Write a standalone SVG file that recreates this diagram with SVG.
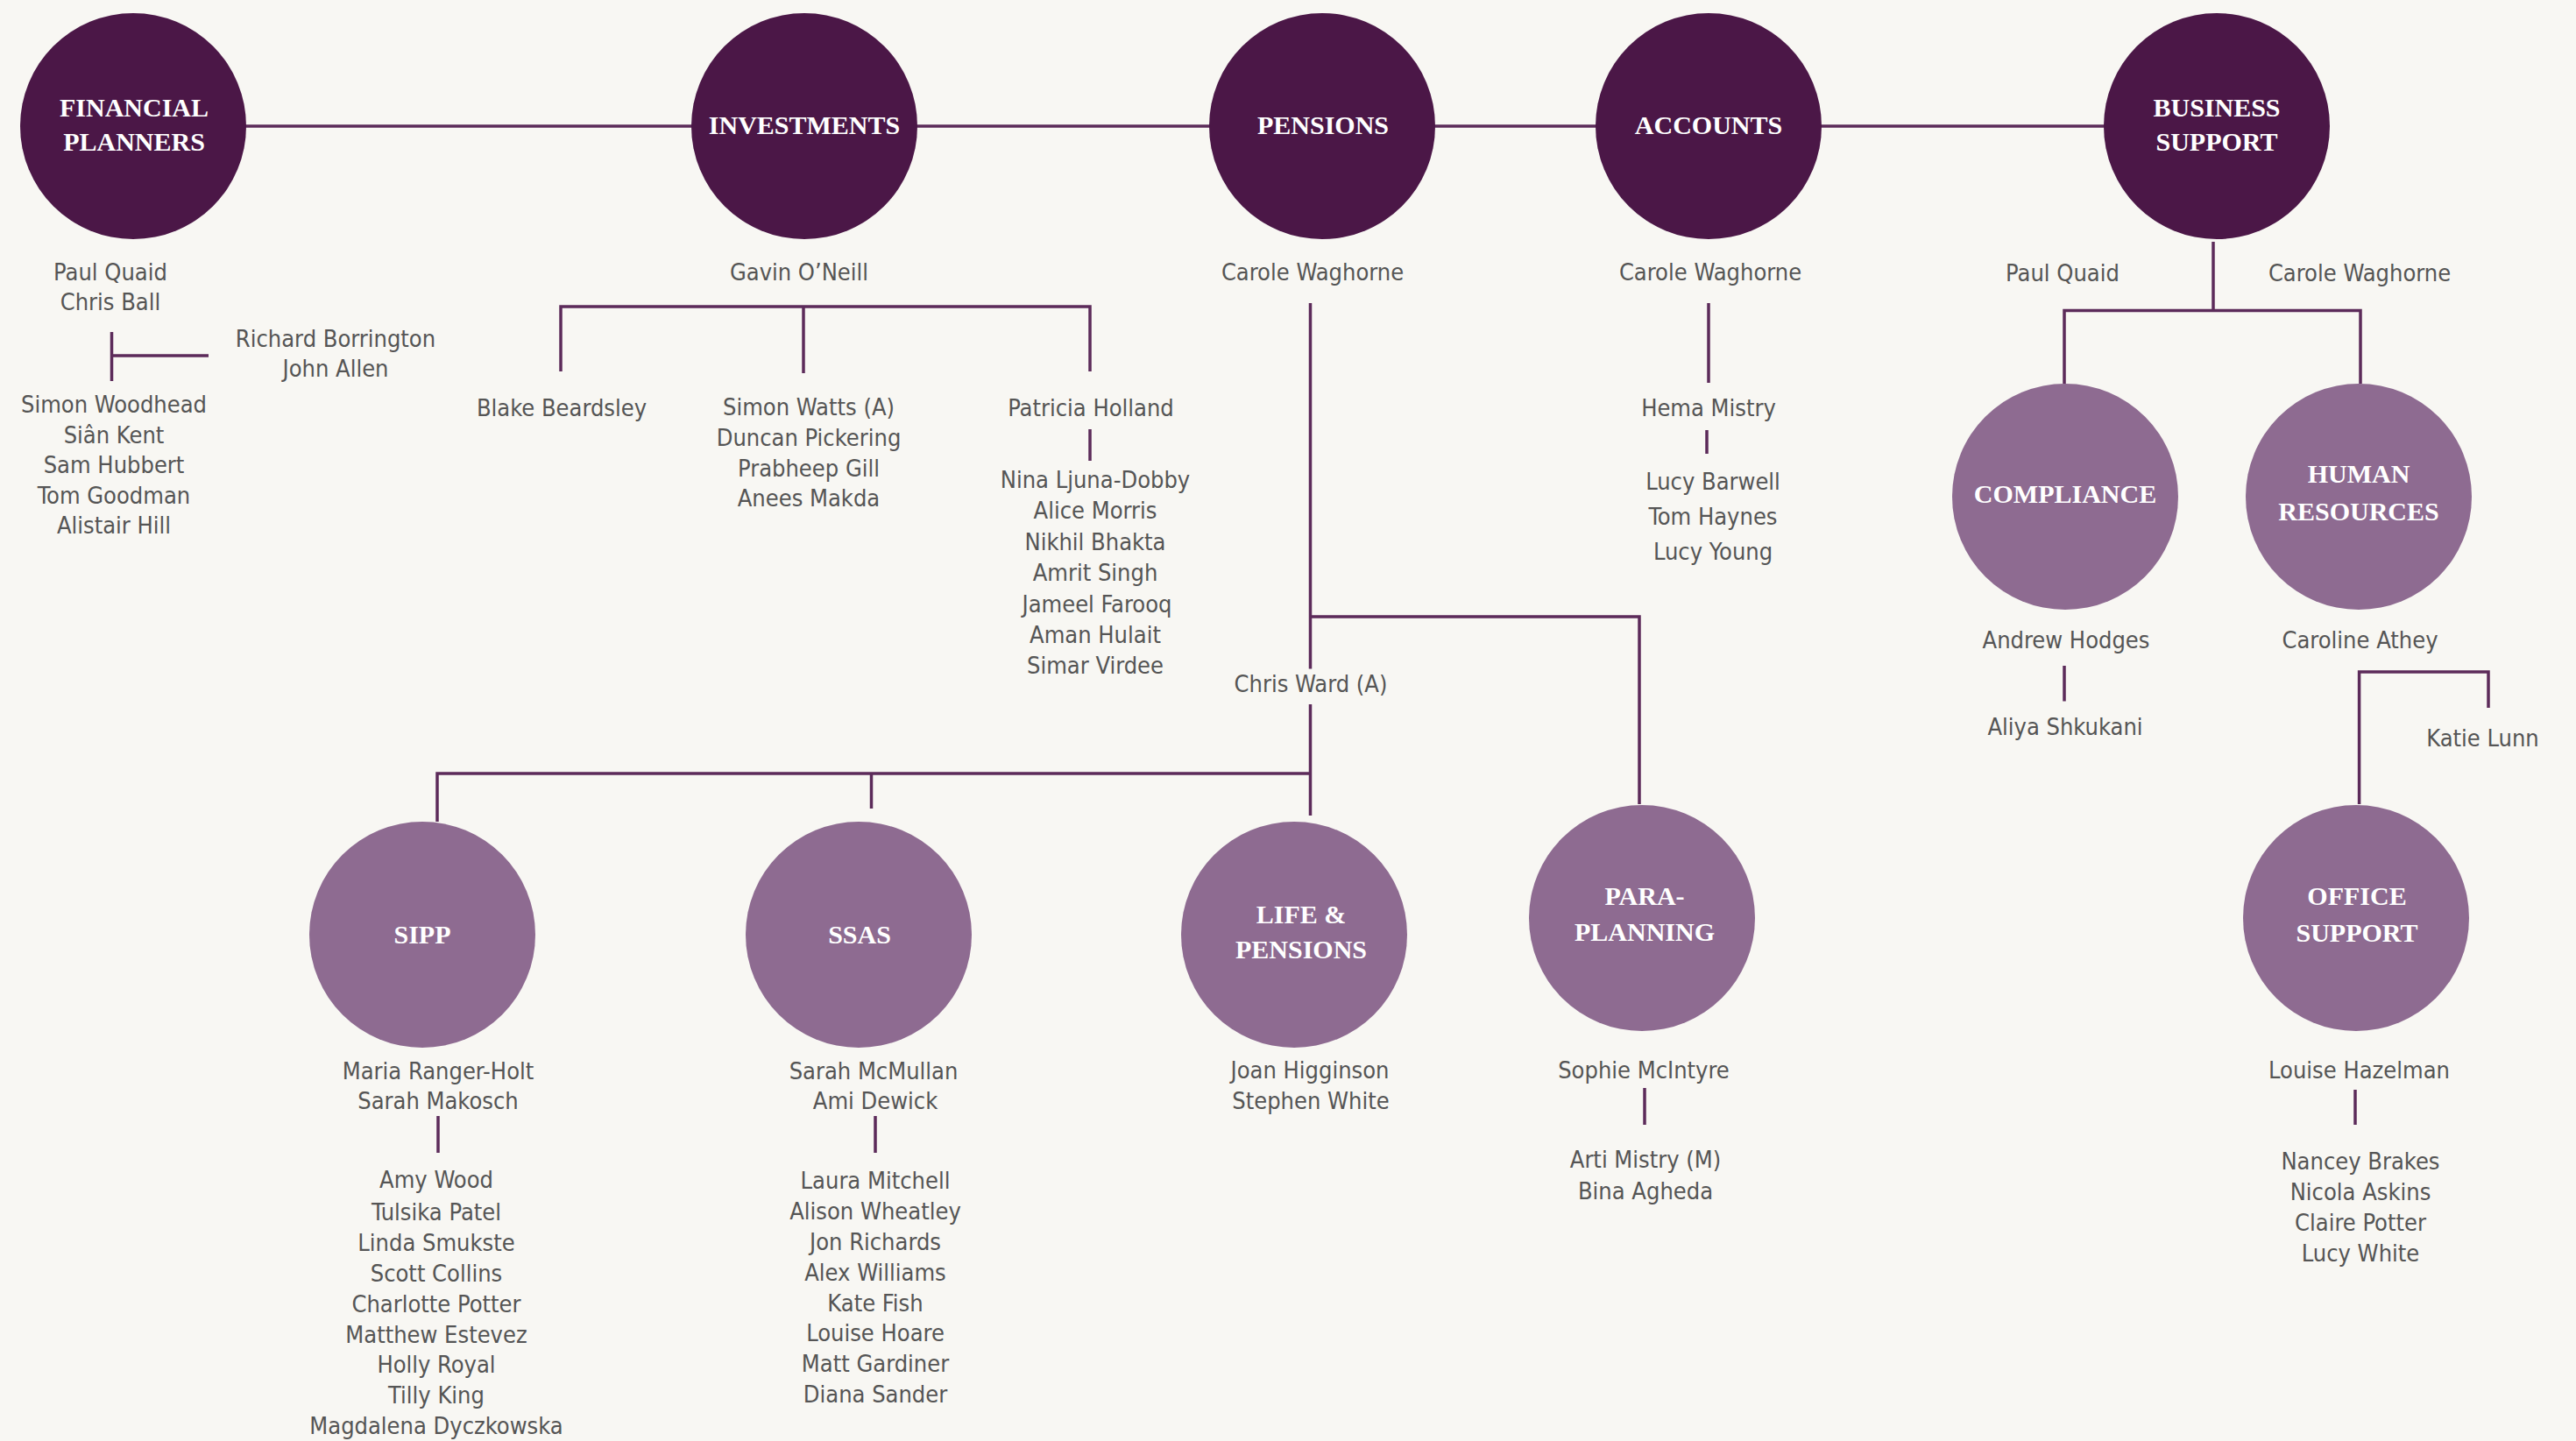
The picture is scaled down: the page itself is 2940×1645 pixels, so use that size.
<svg xmlns="http://www.w3.org/2000/svg" width="2940" height="1645" viewBox="0 0 2940 1645">
<style>
.bg{fill:#F8F7F3}
.dk{fill:#4B1747}
.lt{fill:#8E6B91}
.lbl{font-family:"Liberation Serif","Times New Roman",serif;font-weight:bold;font-size:30px;fill:#FFFFFF;text-anchor:middle}
.nm{font-family:"DejaVu Sans Condensed","DejaVu Sans",sans-serif;font-stretch:condensed;font-size:27px;fill:#555555;text-anchor:middle}
.cn{fill:none;stroke:#5C2B5A;stroke-width:3.5}
</style>
<rect class="bg" x="0" y="0" width="2940" height="1645"/>
<g id="connectors">
<path class="cn" d="M152 144H2530"/>
<path class="cn" d="M127.5 379V435M127.5 406H238"/>
<path class="cn" d="M640 424V350H1244V424M917 350V426M1244 490V526"/>
<path class="cn" d="M1495.5 346V763.5M1495.5 804V931M1495.5 704H1871V918M499 938V883H1495.5M994.5 883V923"/>
<path class="cn" d="M500 1274V1316M999 1274V1316M1877 1242V1284"/>
<path class="cn" d="M1950 346V437M1948 491V518"/>
<path class="cn" d="M2526 276V354.5M2356 438V354.5H2694V438"/>
<path class="cn" d="M2356 760V800.5"/>
<path class="cn" d="M2692.6 918V767H2840V808"/>
<path class="cn" d="M2688 1244V1284"/>
</g>
<g id="financial-planners">
<circle class="dk" cx="152" cy="144" r="129"/>
<text class="lbl" x="153" y="133">FINANCIAL</text>
<text class="lbl" x="153" y="172">PLANNERS</text>
<text class="nm" x="126" y="320">Paul Quaid</text>
<text class="nm" x="126" y="354">Chris Ball</text>
<text class="nm" x="383" y="396">Richard Borrington</text>
<text class="nm" x="383" y="430">John Allen</text>
<text class="nm" x="130" y="471">Simon Woodhead</text>
<text class="nm" x="130" y="505.5">Siân Kent</text>
<text class="nm" x="130" y="540">Sam Hubbert</text>
<text class="nm" x="130" y="574.5">Tom Goodman</text>
<text class="nm" x="130" y="609">Alistair Hill</text>
</g>
<g id="investments">
<circle class="dk" cx="918" cy="144" r="129"/>
<text class="lbl" x="918" y="153">INVESTMENTS</text>
<text class="nm" x="912" y="320">Gavin O’Neill</text>
<text class="nm" x="641" y="475">Blake Beardsley</text>
<text class="nm" x="923" y="474">Simon Watts (A)</text>
<text class="nm" x="923" y="509">Duncan Pickering</text>
<text class="nm" x="923" y="544">Prabheep Gill</text>
<text class="nm" x="923" y="578">Anees Makda</text>
<text class="nm" x="1245" y="475">Patricia Holland</text>
<text class="nm" x="1250" y="557">Nina Ljuna-Dobby</text>
<text class="nm" x="1250" y="592.4">Alice Morris</text>
<text class="nm" x="1250" y="627.8">Nikhil Bhakta</text>
<text class="nm" x="1250" y="663.2">Amrit Singh</text>
<text class="nm" x="1252" y="698.6">Jameel Farooq</text>
<text class="nm" x="1250" y="734">Aman Hulait</text>
<text class="nm" x="1250" y="769.4">Simar Virdee</text>
</g>
<g id="pensions">
<circle class="dk" cx="1509" cy="144" r="129"/>
<text class="lbl" x="1510" y="153">PENSIONS</text>
<text class="nm" x="1498" y="320">Carole Waghorne</text>
<text class="nm" x="1496" y="790">Chris Ward (A)</text>
</g>
<g id="accounts">
<circle class="dk" cx="1950" cy="144" r="129"/>
<text class="lbl" x="1950" y="153">ACCOUNTS</text>
<text class="nm" x="1952" y="320">Carole Waghorne</text>
<text class="nm" x="1950" y="475">Hema Mistry</text>
<text class="nm" x="1955" y="559">Lucy Barwell</text>
<text class="nm" x="1955" y="599">Tom Haynes</text>
<text class="nm" x="1955" y="639">Lucy Young</text>
</g>
<g id="business-support">
<circle class="dk" cx="2530" cy="144" r="129"/>
<text class="lbl" x="2530" y="133">BUSINESS</text>
<text class="lbl" x="2530" y="172">SUPPORT</text>
<text class="nm" x="2354" y="320.6">Paul Quaid</text>
<text class="nm" x="2693" y="320.6">Carole Waghorne</text>
</g>
<g id="compliance">
<circle class="lt" cx="2357" cy="567" r="129"/>
<text class="lbl" x="2357" y="574">COMPLIANCE</text>
<text class="nm" x="2358" y="740">Andrew Hodges</text>
<text class="nm" x="2357" y="839">Aliya Shkukani</text>
</g>
<g id="human-resources">
<circle class="lt" cx="2692" cy="567" r="129"/>
<text class="lbl" x="2692" y="551">HUMAN</text>
<text class="lbl" x="2692" y="594">RESOURCES</text>
<text class="nm" x="2693.5" y="740">Caroline Athey</text>
<text class="nm" x="2833.5" y="852">Katie Lunn</text>
</g>
<g id="sipp">
<circle class="lt" cx="482" cy="1067" r="129"/>
<text class="lbl" x="482" y="1076.5">SIPP</text>
<text class="nm" x="500" y="1232">Maria Ranger-Holt</text>
<text class="nm" x="500" y="1266">Sarah Makosch</text>
<text class="nm" x="498" y="1356">Amy Wood</text>
<text class="nm" x="498" y="1393">Tulsika Patel</text>
<text class="nm" x="498" y="1428">Linda Smukste</text>
<text class="nm" x="498" y="1463">Scott Collins</text>
<text class="nm" x="498" y="1498">Charlotte Potter</text>
<text class="nm" x="498" y="1532.5">Matthew Estevez</text>
<text class="nm" x="498" y="1567">Holly Royal</text>
<text class="nm" x="498" y="1602">Tilly King</text>
<text class="nm" x="498" y="1637">Magdalena Dyczkowska</text>
</g>
<g id="ssas">
<circle class="lt" cx="980" cy="1067" r="129"/>
<text class="lbl" x="981" y="1076.5">SSAS</text>
<text class="nm" x="997" y="1232">Sarah McMullan</text>
<text class="nm" x="999" y="1266">Ami Dewick</text>
<text class="nm" x="999" y="1357">Laura Mitchell</text>
<text class="nm" x="999" y="1392">Alison Wheatley</text>
<text class="nm" x="999" y="1427">Jon Richards</text>
<text class="nm" x="999" y="1462">Alex Williams</text>
<text class="nm" x="999" y="1497">Kate Fish</text>
<text class="nm" x="999" y="1531">Louise Hoare</text>
<text class="nm" x="999" y="1566">Matt Gardiner</text>
<text class="nm" x="999" y="1601">Diana Sander</text>
</g>
<g id="life-pensions">
<circle class="lt" cx="1477" cy="1067" r="129"/>
<text class="lbl" x="1485" y="1054">LIFE &amp;</text>
<text class="lbl" x="1485" y="1094">PENSIONS</text>
<text class="nm" x="1495" y="1231">Joan Higginson</text>
<text class="nm" x="1496" y="1266">Stephen White</text>
</g>
<g id="para-planning">
<circle class="lt" cx="1874" cy="1048" r="129"/>
<text class="lbl" x="1877" y="1033">PARA-</text>
<text class="lbl" x="1877" y="1074">PLANNING</text>
<text class="nm" x="1876" y="1231">Sophie McIntyre</text>
<text class="nm" x="1878" y="1333">Arti Mistry (M)</text>
<text class="nm" x="1878" y="1369">Bina Agheda</text>
</g>
<g id="office-support">
<circle class="lt" cx="2689" cy="1048" r="129"/>
<text class="lbl" x="2690" y="1033">OFFICE</text>
<text class="lbl" x="2690" y="1075">SUPPORT</text>
<text class="nm" x="2692.5" y="1231">Louise Hazelman</text>
<text class="nm" x="2694" y="1335">Nancey Brakes</text>
<text class="nm" x="2694" y="1370">Nicola Askins</text>
<text class="nm" x="2694" y="1405">Claire Potter</text>
<text class="nm" x="2694" y="1440">Lucy White</text>
</g>
</svg>
